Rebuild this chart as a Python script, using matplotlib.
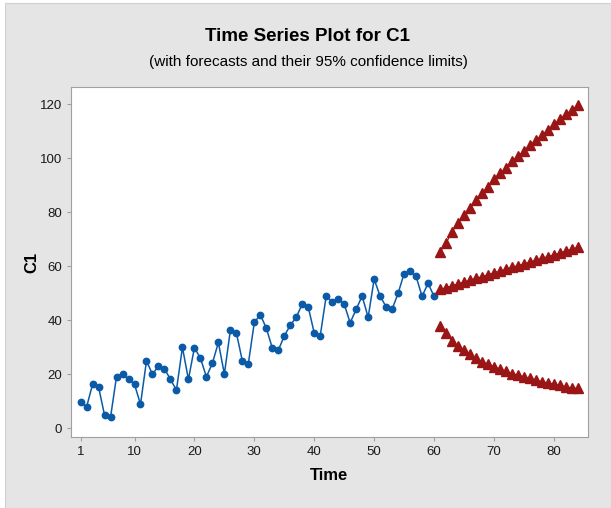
import numpy as np
import matplotlib.pyplot as plt
from matplotlib.patches import Rectangle

plt.rcParams["font.family"] = ["Liberation Sans", "DejaVu Sans"]

# observed series C1 (t = 1..60)
c1 = [9.7, 7.8, 16.2, 15.2, 4.8, 4.0, 19.1, 20.0, 18.0, 16.2,
      8.8, 24.9, 19.9, 23.0, 22.0, 18.0, 14.1, 29.9, 18.0, 29.8,
      25.9, 19.0, 24.0, 31.7, 20.0, 36.2, 35.3, 24.9, 23.8, 39.1,
      42.0, 37.0, 29.7, 28.8, 34.1, 38.1, 41.0, 46.0, 44.9, 35.2,
      34.1, 48.9, 46.8, 47.8, 45.9, 39.0, 44.0, 48.9, 41.0, 55.1,
      48.9, 44.9, 44.0, 49.9, 57.2, 58.1, 56.2, 48.8, 53.6, 48.8]

# forecasts for t = 61..84
forecast = [51.4, 52.0, 52.7, 53.4, 54.1, 54.8, 55.4, 56.1, 56.8, 57.5,
            58.1, 58.8, 59.5, 60.2, 60.8, 61.5, 62.2, 62.9, 63.5, 64.2,
            64.9, 65.6, 66.2, 66.9]
upper = [65.3, 68.4, 72.7, 75.8, 78.9, 81.6, 84.4, 86.9, 89.4, 92.1,
         94.3, 96.2, 98.9, 100.7, 102.6, 104.8, 106.7, 108.5, 110.4, 112.5,
         114.3, 116.2, 117.8, 119.6]
lower = [37.8, 35.1, 32.3, 30.4, 28.9, 27.3, 25.8, 24.6, 23.7, 22.7,
         21.9, 21.1, 20.2, 19.6, 19.0, 18.4, 17.8, 17.1, 16.8, 16.3,
         15.8, 15.3, 14.9, 14.7]

t_obs = np.arange(1, len(c1) + 1)
t_fc = np.arange(len(c1) + 1, len(c1) + len(forecast) + 1)

fig = plt.figure(figsize=(6.11, 5.08), dpi=100)
fig.patch.set_facecolor("white")
fig.patches.append(Rectangle((5 / 611, 0), 606 / 611, 505 / 508,
                             transform=fig.transFigure, facecolor="#e5e5e5",
                             edgecolor="#d0d0d0", lw=0.8, zorder=-10))

ax = fig.add_axes([71 / 611, 71 / 508, 517 / 611, 350 / 508])
ax.set_facecolor("white")

blue = "#0b5aa8"
red = "#9a1515"
ax.plot(t_obs, c1, color=blue, lw=1.1, marker="o", ms=4.6, mec=blue, mfc=blue)
for series in (forecast, upper, lower):
    ax.plot(t_fc, series, color=red, lw=0.8, marker="^", ms=6.5, mec=red, mfc=red)

ax.set_xlim(-0.6, 85.7)
ax.set_ylim(-3.3, 126.3)
ax.set_xticks([1, 10, 20, 30, 40, 50, 60, 70, 80])
ax.set_yticks([0, 20, 40, 60, 80, 100, 120])
for s in ax.spines.values():
    s.set_color("#a0a0a0")
ax.tick_params(direction="out", length=3, color="#a0a0a0", labelsize=9.5,
               labelcolor="#1a1a1a")

ax.set_xlabel("Time", fontsize=12, fontweight="bold", labelpad=7)
ax.set_ylabel("C1", fontsize=12, fontweight="bold", labelpad=0)

fig.text(0.504, 0.928, "Time Series Plot for C1", ha="center", va="center",
         fontsize=13.5, fontweight="bold")
fig.text(0.504, 0.878, "(with forecasts and their 95% confidence limits)",
         ha="center", va="center", fontsize=11)

fig.savefig("out.png", dpi=100, facecolor=fig.get_facecolor())
plt.close(fig)
